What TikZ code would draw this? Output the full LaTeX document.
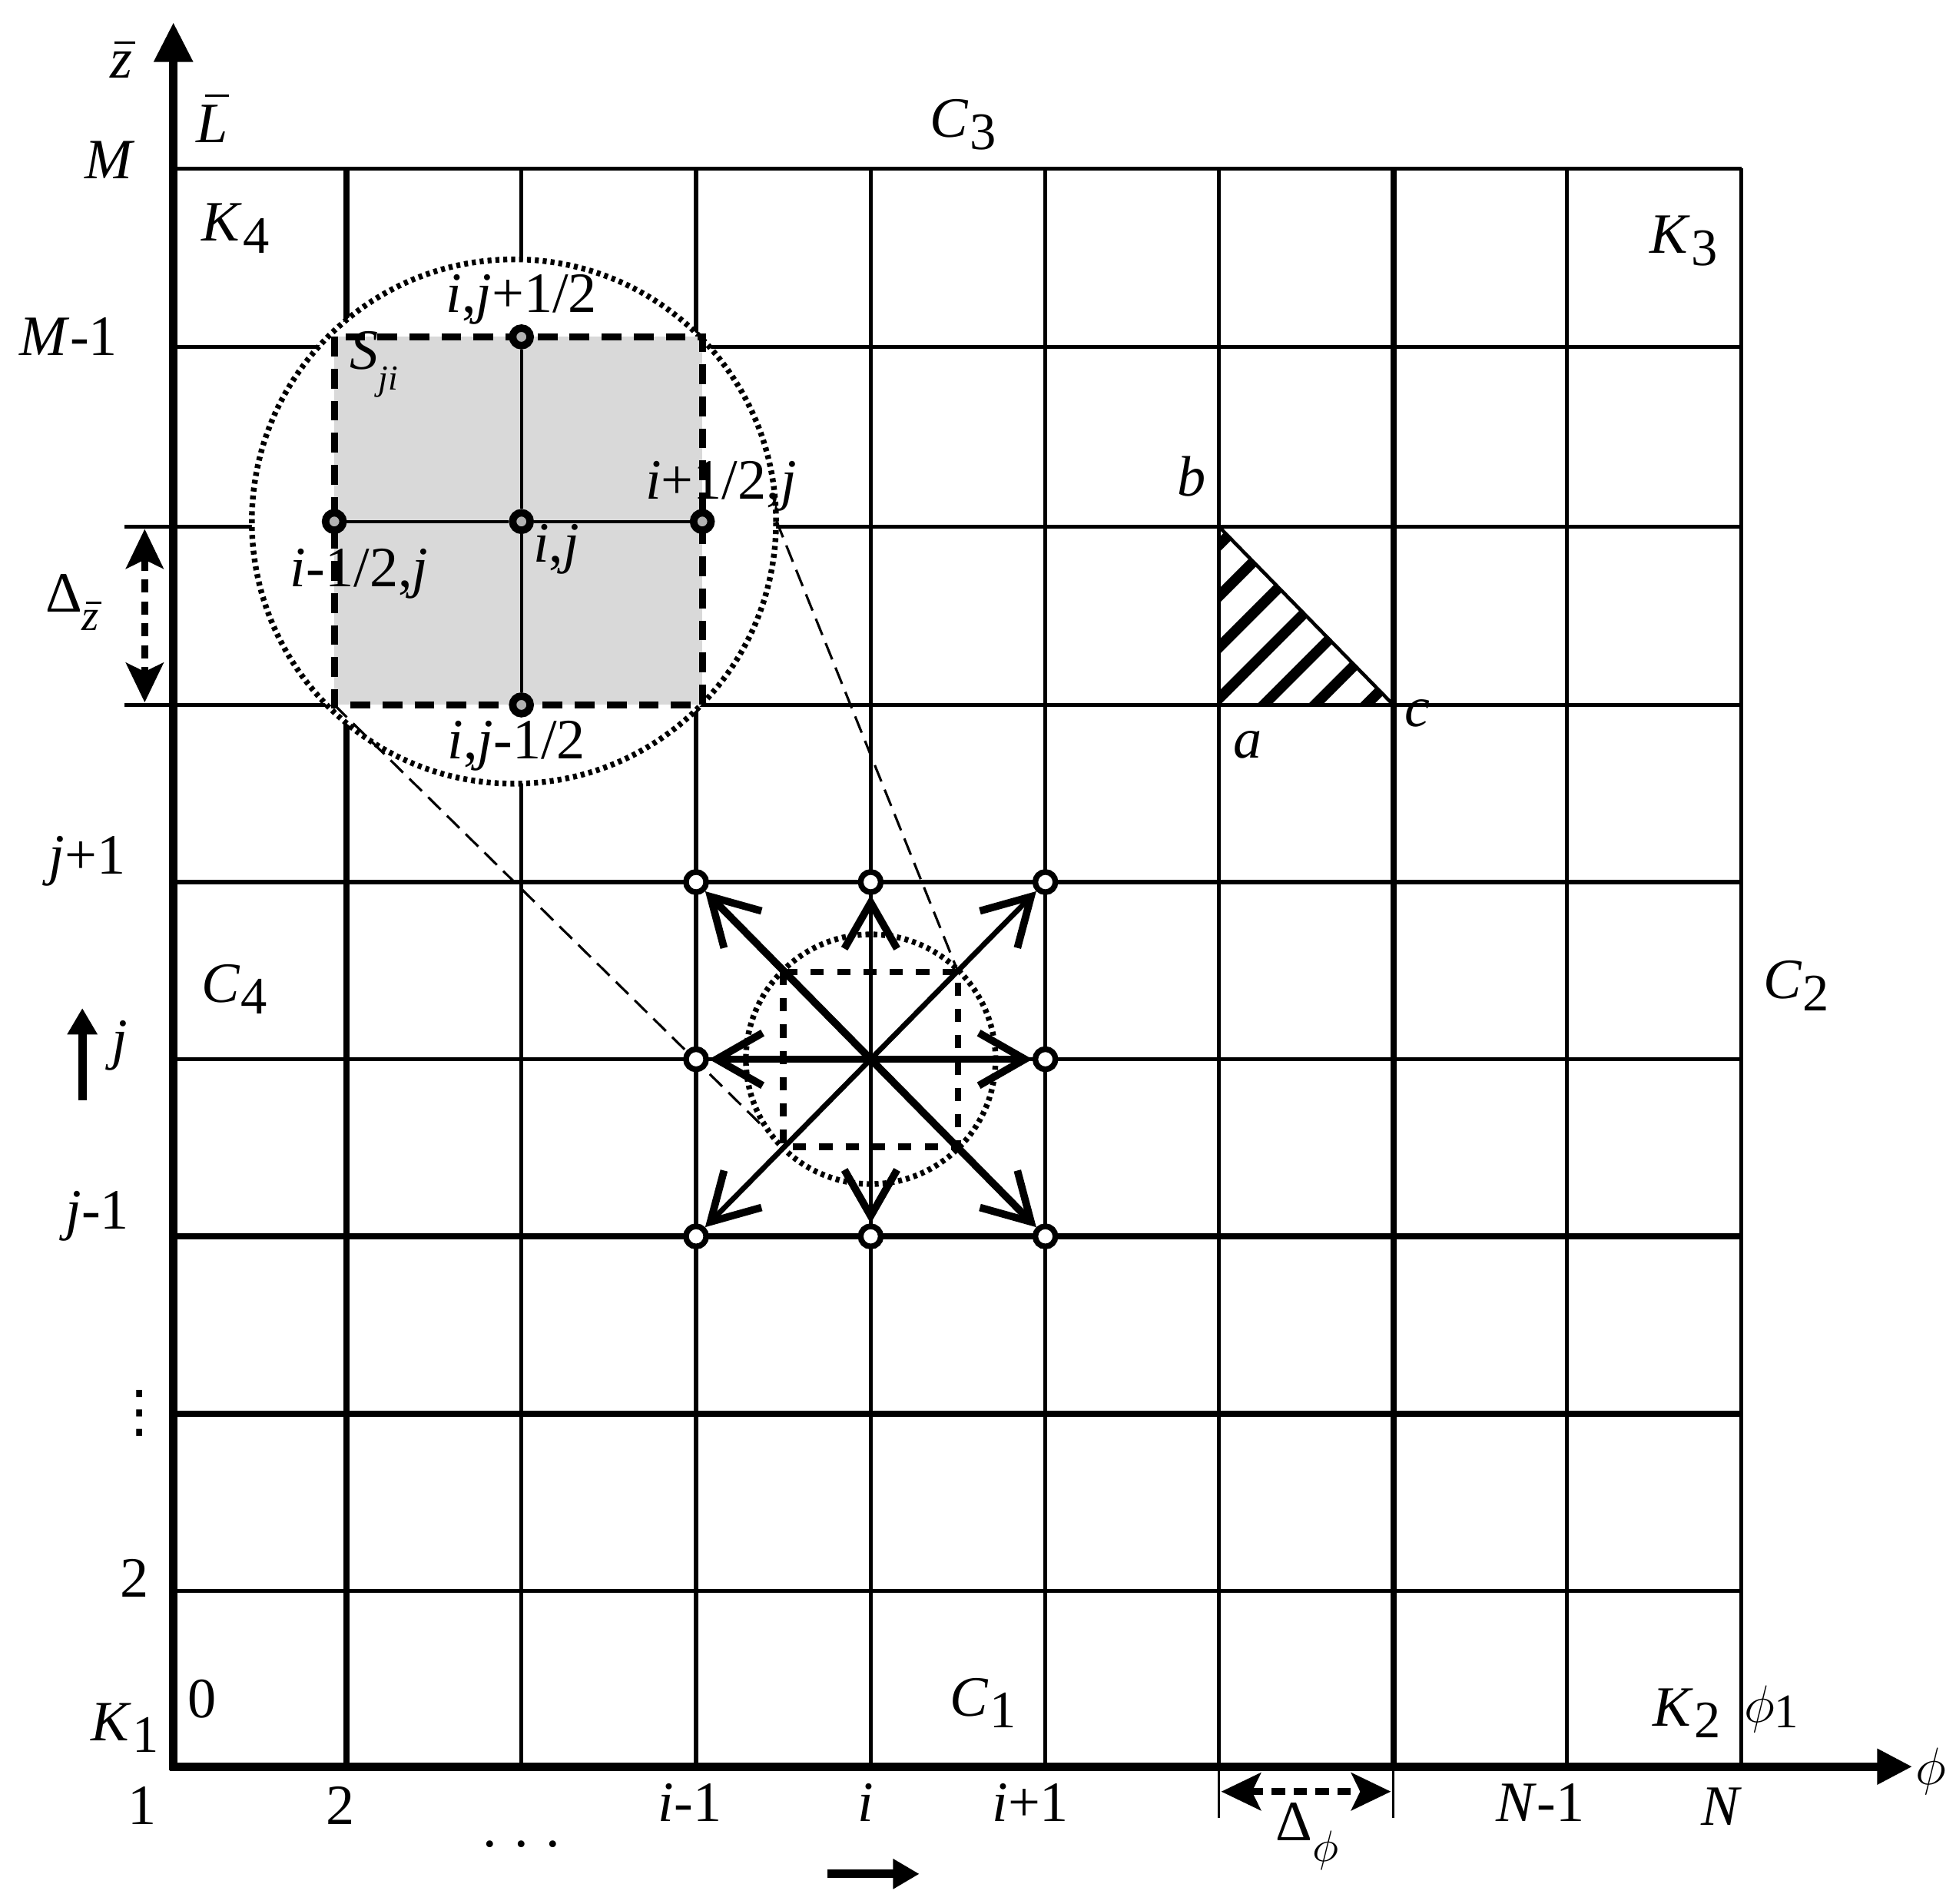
\documentclass[tikz,border=0pt]{standalone}
\usepackage{fontspec}
\setmainfont{Liberation Serif}
\newfontfamily\djv{DejaVu Sans}
\usetikzlibrary{arrows.meta,calc}
\newcommand{\lsub}[2]{\textit{#1}\kern0.2pt\raisebox{-0.45ex}{\fontsize{12}{12}\selectfont #2}}
\newcommand{\barL}{\rlap{\kern0.16em\rule[0.8em]{0.42em}{0.6pt}}\textit{L}}
\newcommand{\barz}{\rlap{\kern0.08em\rule[0.6em]{0.36em}{0.6pt}}\textit{z}}
\begin{document}
\begin{tikzpicture}[x=0.01cm,y=-0.01cm,
  lbl/.style={inner sep=0pt, font=\fontsize{13}{15}\selectfont},
  gridline/.style={line width=0.9pt},
  thickgrid/.style={line width=1.4pt},
  axisline/.style={line width=1.9pt},
  mnode/.style={circle, draw, line width=1.7pt, fill=gray!60, inner sep=0pt, minimum size=4pt},
  snode/.style={circle, draw, line width=1.3pt, fill=white, inner sep=0pt, minimum size=4.6pt},
  sarrow/.style={-{Straight Barb[length=10.5pt,width=12pt,line width=1.7pt]}},
  bigcirc/.style={line width=1.3pt, dash pattern=on 0.9pt off 0.9pt},
  sqdash/.style={line width=1.6pt, dash pattern=on 4.5pt off 2.8pt},
  smallsq/.style={line width=1.5pt, dash pattern=on 3pt off 3pt},
  zoomline/.style={line width=0.55pt, dash pattern=on 4pt off 2pt},
  ddarrow/.style={line width=1.6pt, dash pattern=on 3pt off 2pt,
     {Stealth[length=9pt,width=8.5pt,inset=2pt]}-{Stealth[length=9pt,width=8.5pt,inset=2pt]}},
  bigarrow/.style={line width=1.9pt, -{Triangle[length=6pt,width=6.5pt]}}
]
\useasboundingbox (0,0) rectangle (1568,1526);

% grid
\foreach \x in {418,558,698,838,977,1256,1396}
  \draw[gridline] (\x,135) -- (\x,1416);
\foreach \x in {278,1117}
  \draw[thickgrid] (\x,135) -- (\x,1416);
\foreach \y in {135,278,422,565,707,849,1275}
  \draw[gridline] (139,\y) -- (1396,\y);
\foreach \y in {991,1133}
  \draw[thickgrid] (139,\y) -- (1396,\y);
\draw[gridline] (100,422) -- (139,422);
\draw[gridline] (100,565) -- (139,565);
\draw[line width=0.5pt] (977,1416) -- (977,1457);
\draw[line width=0.5pt] (1117,1416) -- (1117,1457);

% axes
\coordinate (O) at (139,1416);
\coordinate (ztip) at (139,18);
\coordinate (ptip) at (1533,1416);
\draw[axisline, -{Triangle[length=9pt,width=8.5pt]}] ($(O)+(0,3)$) -- (ztip);
\draw[axisline, -{Triangle[length=8pt,width=7.7pt]}] ($(O)+(-3,0)$) -- (ptip);

% hatched triangle
\coordinate (ta) at (977,565);
\coordinate (tb) at (977,422);
\coordinate (tc) at (1117,565);
\begin{scope}
\clip (ta) -- (tb) -- (tc) -- cycle;
\foreach \d in {-118,-77,-36,5,46,87,128}
  \draw[line width=2.4pt] (957,{585-\d}) -- ++(180,-180);
\end{scope}
\draw[line width=0.8pt] (tb) -- (tc);

% magnified region
\fill[white] (412,418) circle[radius=2.1cm];
\draw[bigcirc] (412,418) circle[radius=2.1cm];
\fill[gray!30] (268,270) rectangle (563,565);
\draw[sqdash] (268,270) rectangle (563,565);
\node[mnode] (pn) at (418,270) {};
\node[mnode] (pw) at (268,418) {};
\node[mnode] (pc) at (418,418) {};
\node[mnode] (pe) at (563,418) {};
\node[mnode] (ps) at (418,565) {};
\draw[line width=0.7pt] (pn) -- (pc);
\draw[line width=0.7pt] (pc) -- (ps);
\draw[line width=0.7pt] (pw) -- (pc);
\draw[line width=0.7pt] (pc) -- (pe);

% zoom lines
\coordinate (BUR) at (563,270);
\coordinate (SUR) at (768,779);
\coordinate (BLL) at (268,565);
\coordinate (SLL) at (628,919);
\draw[zoomline] ($(BUR)!0.29!(SUR)$) -- (SUR);
\draw[zoomline] (BLL) -- ($(BLL)!0.955!(SLL)$);

% stencil
\draw[bigcirc] (698,849) circle[radius=1cm];
\draw[smallsq] (628,779) rectangle (768,919);
\coordinate (sc) at (698,849);
\node[snode] (nw) at (558,707) {};
\node[snode] (nn) at (698,707) {};
\node[snode] (ne) at (838,707) {};
\node[snode] (ww) at (558,849) {};
\node[snode] (ee) at (838,849) {};
\node[snode] (sw) at (558,991) {};
\node[snode] (ss) at (698,991) {};
\node[snode] (se) at (838,991) {};
\draw[sarrow, line width=1.7pt] (sc) -- (nw);
\draw[sarrow, line width=1.7pt] (sc) -- (se);
\draw[sarrow, line width=1.2pt] (sc) -- (ne);
\draw[sarrow, line width=1.2pt] (sc) -- (sw);
\draw[sarrow, line width=1.6pt] (sc) -- (ww);
\draw[sarrow, line width=1.6pt] (sc) -- (ee);
\draw[sarrow, line width=1.0pt] (sc) -- (nn);
\draw[sarrow, line width=1.0pt] (sc) -- (ss);

% delta arrows
\coordinate (dz1) at (116,424);
\coordinate (dz2) at (116,563);
\draw[ddarrow] (dz1) -- (dz2);
\coordinate (dp1) at (979,1436);
\coordinate (dp2) at (1115,1436);
\draw[ddarrow] (dp1) -- (dp2);

% direction arrows
\coordinate (ja) at (66,882);
\coordinate (jb) at (66,808);
\draw[bigarrow] (ja) -- (jb);
\coordinate (ia) at (663,1502);
\coordinate (ib) at (737,1502);
\draw[bigarrow] (ia) -- (ib);

% labels
\node[lbl] (lz) at (97,48) {\barz};
\node[lbl] (lM) at (88,128) {\textit{M}};
\node[lbl] (lL) at (170,95) {\barL};
\node[lbl] (lC3) at (772,100) {\lsub{C}{3}};
\node[lbl] (lK4) at (189,183) {\lsub{K}{4}};
\node[lbl] (lK3) at (1350,193) {\lsub{K}{3}};
\node[lbl] (lM1) at (55,270) {\textit{M}-1};
\node[lbl] (lijp) at (418,240) {\textit{i},\textit{j}+1/2};
\node[lbl] (lS) at (300,292) {\textit{S}\raisebox{-0.8ex}{\fontsize{8}{8}\selectfont\textit{ji}}};
\node[lbl] (lb) at (955,382) {\textit{b}};
\node[lbl] (lipj) at (578,390) {\textit{i}+1/2,\textit{j}};
\node[lbl] (ldz) at (58,483) {Δ\raisebox{-0.7ex}{\fontsize{10}{10}\selectfont\barz}};
\node[lbl] (limj) at (288,460) {\textit{i}-1/2,\textit{j}};
\node[lbl] (lij) at (446,440) {\textit{i},\textit{j}};
\node[lbl] (la) at (1000,597) {\textit{a}};
\node[lbl] (lc) at (1136,572) {\textit{c}};
\node[lbl] (lijm) at (414,598) {\textit{i},\textit{j}-1/2};
\node[lbl] (ljp) at (70,690) {\textit{j}+1};
\node[lbl] (lC4) at (188,793) {\lsub{C}{4}};
\node[lbl] (lC2) at (1440,790) {\lsub{C}{2}};
\node[lbl] (lj) at (96,838) {\textit{j}};
\node[lbl] (ljm) at (78,975) {\textit{j}-1};
\node[lbl] (lvd) at (112,1133) {\djv ⋮};
\node[lbl] (l2v) at (108,1265) {2};
\node[lbl] (l0) at (162,1362) {0};
\node[lbl] (lK1) at (100,1385) {\lsub{K}{1}};
\node[lbl] (lC1) at (788,1365) {\lsub{C}{1}};
\node[lbl] (lK2) at (1352,1373) {\lsub{K}{2}};
\node[lbl] (lphi1) at (1420,1370) {$\phi$\raisebox{-0.2ex}{\fontsize{11}{11}\selectfont 1}};
\node[lbl] (lphi) at (1548,1420) {$\phi$};
\node[lbl] (l1h) at (114,1447) {1};
\node[lbl] (l2h) at (273,1447) {2};
\node[lbl] (lim) at (553,1445) {\textit{i}-1};
\node[lbl] (li) at (694,1445) {\textit{i}};
\node[lbl] (lip) at (826,1445) {\textit{i}+1};
\node[lbl] (lNm) at (1235,1445) {\textit{N}-1};
\node[lbl] (lN) at (1380,1448) {\textit{N}};
\node[lbl] (ldp) at (1048,1472) {Δ\raisebox{-0.8ex}{\fontsize{10}{10}\selectfont$\phi$}};
\node[lbl] (ldots) at (418,1478) {.\hspace{4pt}.\hspace{4pt}.};
\end{tikzpicture}
\end{document}
